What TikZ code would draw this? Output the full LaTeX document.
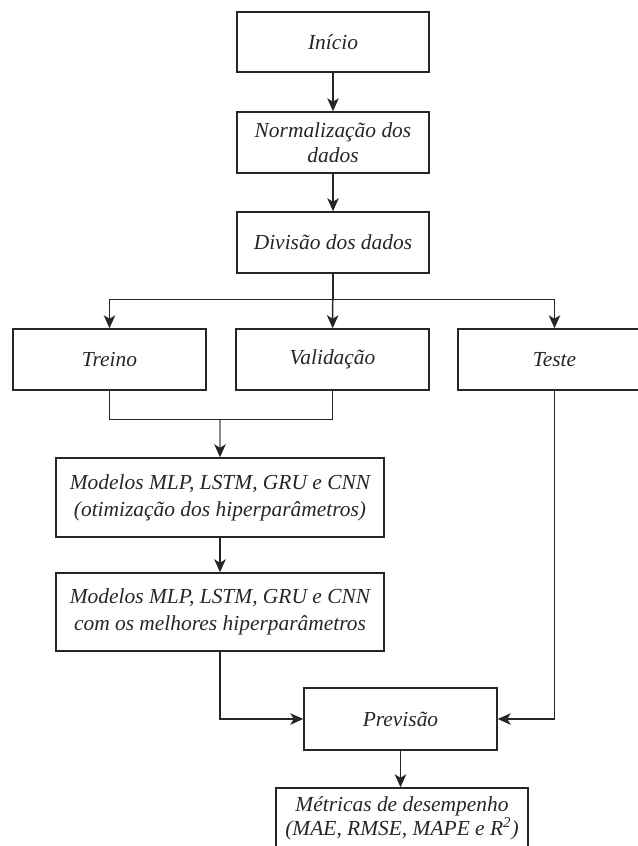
\documentclass[tikz,border=0pt]{standalone}
\usepackage{fontspec}
\setmainfont{Liberation Serif}
\usetikzlibrary{arrows.meta}
\definecolor{traco}{HTML}{262626}
\definecolor{cinza}{HTML}{8C8C8C}
\tikzset{
  caixa/.style={draw=traco,line width=0.85pt,align=center,inner sep=0pt,text=traco,
    font=\itshape\fontsize{12.2}{14.4}\selectfont},
  seta/.style={-{Stealth[length=2.6mm,width=2.3mm,inset=0.7mm]},traco,line width=0.85pt},
  setac/.style={-{Stealth[length=2.6mm,width=2.3mm,inset=0.7mm,color=traco]},cinza,line width=0.85pt},
  linha/.style={traco,line width=0.85pt},
}
\begin{document}
\begin{tikzpicture}[x=0.02cm,y=-0.02cm]
  \useasboundingbox (0,0) rectangle (638,846);
  % coluna central
  \node[caixa,minimum width=3.84cm,minimum height=1.2cm] (inicio) at (333,42) {Início};
  \node[caixa,minimum width=3.84cm,minimum height=1.22cm] (norm) at (333,142.5) {Normalização dos\\dados};
  \node[caixa,minimum width=3.84cm,minimum height=1.22cm] (divisao) at (333,242.5) {Divisão dos dados};
  % conjuntos
  \node[caixa,minimum width=3.86cm,minimum height=1.22cm] (treino) at (109.5,359.5) {Treino};
  \node[caixa,minimum width=3.86cm,minimum height=1.22cm] (valid) at (332.5,359.5) {Validação};
  \node[caixa,minimum width=3.86cm,minimum height=1.22cm] (teste) at (554.5,359.5) {Teste};
  % modelos
  \node[caixa,minimum width=6.56cm,minimum height=1.58cm,
    font=\itshape\fontsize{12.2}{15.4}\selectfont] (otim) at (220,497.5)
    {Modelos MLP, LSTM, GRU e CNN\\(otimização dos hiperparâmetros)};
  \node[caixa,minimum width=6.56cm,minimum height=1.56cm,
    font=\itshape\fontsize{12.2}{15.4}\selectfont] (melhores) at (220,612)
    {Modelos MLP, LSTM, GRU e CNN\\com os melhores hiperparâmetros};
  \node[caixa,minimum width=3.86cm,minimum height=1.24cm] (prev) at (400.5,719) {Previsão};
  \node[caixa,minimum width=5.04cm,minimum height=1.22cm,
    font=\itshape\fontsize{12.2}{12.6}\selectfont] (metr) at (402,818.5)
    {Métricas de desempenho\\(MAE, RMSE, MAPE e R\textsuperscript{2})};
  % ligacoes
  \draw[seta] (inicio) -- (norm);
  \draw[seta] (norm) -- (divisao);
  \draw[seta] (divisao) -- (valid);
  \draw[seta] (divisao.south) -- ++(0,26) -| (treino.north);
  \draw[seta] (divisao.south) -- ++(0,26) -| (teste.north);
  \draw[linha] (treino.south) -- ++(0,29) coordinate (junta) -| (valid.south);
  \draw[setac] (otim.north |- junta) -- (otim.north);
  \draw[seta] (otim) -- (melhores);
  \draw[seta] (melhores.south) |- (prev.west);
  \draw[seta] (teste.south) |- (prev.east);
  \draw[seta] (prev) -- (prev |- metr.north);
\end{tikzpicture}
\end{document}
